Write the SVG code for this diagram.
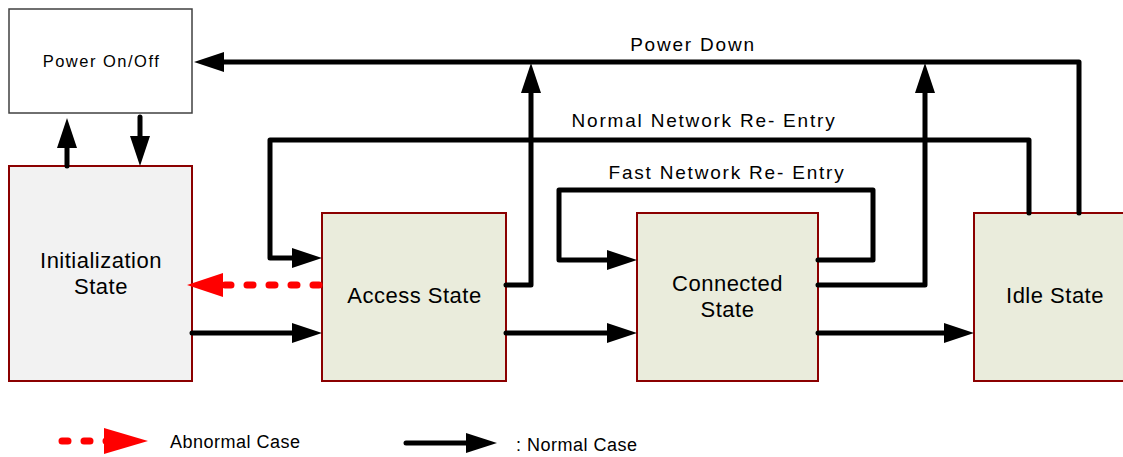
<svg xmlns="http://www.w3.org/2000/svg" width="1123" height="457" viewBox="0 0 1123 457">
<style>
.state{fill:#eaecdc;stroke:#8b0000;stroke-width:2}
.txt{font-family:"Liberation Sans",Arial,sans-serif;fill:#000;text-anchor:middle}
.st{font-size:22px;letter-spacing:0.5px}
.lbl{font-size:19px;letter-spacing:1.8px}
.leg{font-family:"Liberation Sans",Arial,sans-serif;font-size:18px;letter-spacing:0.5px;fill:#000}
.c{fill:none;stroke:#000;stroke-width:5;stroke-linecap:round;stroke-linejoin:round;marker-end:url(#ah)}
.cn{fill:none;stroke:#000;stroke-width:5;stroke-linecap:round;stroke-linejoin:round}
.ab{fill:none;stroke:#ff0000;stroke-width:7;stroke-linecap:round;stroke-dasharray:6 16;}
</style>
<defs>
<marker id="ah" markerUnits="userSpaceOnUse" markerWidth="31" markerHeight="21" refX="15" refY="10" orient="auto">
<path d="M0,0 L30,10 L0,20 z" fill="#000"/>
</marker>
</defs>
<rect x="0" y="0" width="1123" height="457" fill="#fff"/>

<g id="power">
<rect x="9" y="9" width="183" height="104" fill="#fff" stroke="#404040" stroke-width="1.5"/>
<text class="txt" x="101.5" y="67" font-size="16.5" letter-spacing="1.5">Power On/Off</text>
</g>
<g id="init">
<rect x="9" y="166" width="183" height="215" fill="#f2f2f2" stroke="#8b0000" stroke-width="2"/>
<text class="txt st" x="101" y="268">Initialization</text>
<text class="txt st" x="101" y="294">State</text>
</g>
<g id="access">
<rect class="state" x="322" y="213" width="184" height="168"/>
<text class="txt st" x="414.5" y="303">Access State</text>
</g>
<g id="connected">
<rect class="state" x="637" y="213" width="181" height="168"/>
<text class="txt st" x="727.5" y="291">Connected</text>
<text class="txt st" x="727.5" y="317">State</text>
</g>
<g id="idle">
<rect class="state" x="974" y="213" width="170" height="168"/>
<text class="txt st" x="1055" y="303">Idle State</text>
</g>

<g id="connectors">
<path class="c" d="M67,166 L67,133"/>
<path class="c" d="M140,117 L140,151"/>
<path class="c" d="M1079,213 L1079,62 L209,62"/>
<path class="c" d="M506,285 L531,285 L531,78"/>
<path class="c" d="M818,285 L925,285 L925,78"/>
<path class="c" d="M1029,213 L1029,140 L270,140 L270,258 L307,258"/>
<path class="c" d="M818,260 L873,260 L873,190 L559,190 L559,260 L622,260"/>
<path class="c" d="M192,333 L307,333"/>
<path class="c" d="M506,333 L622,333"/>
<path class="c" d="M818,333 L959,333"/>
<path class="ab" d="M319,285 L210,285"/>
<path d="M223,273 L187,285 L223,297 z" fill="#ff0000"/>
<text class="txt lbl" x="693" y="51">Power Down</text>
<text class="txt lbl" x="704" y="127">Normal Network Re- Entry</text>
<text class="txt lbl" x="727" y="179">Fast Network Re- Entry</text>
</g>

<g id="legend">
<path class="ab" d="M62,441 L108,441"/>
<path d="M104,428 L148,441 L104,454 z" fill="#ff0000"/>
<text class="leg" x="170" y="448">Abnormal Case</text>
<path class="cn" d="M406,443 L470,443"/>
<path d="M466,433 L497,443 L466,453 z" fill="#000"/>
<text class="leg" x="516" y="451">: Normal Case</text>
</g>
</svg>
